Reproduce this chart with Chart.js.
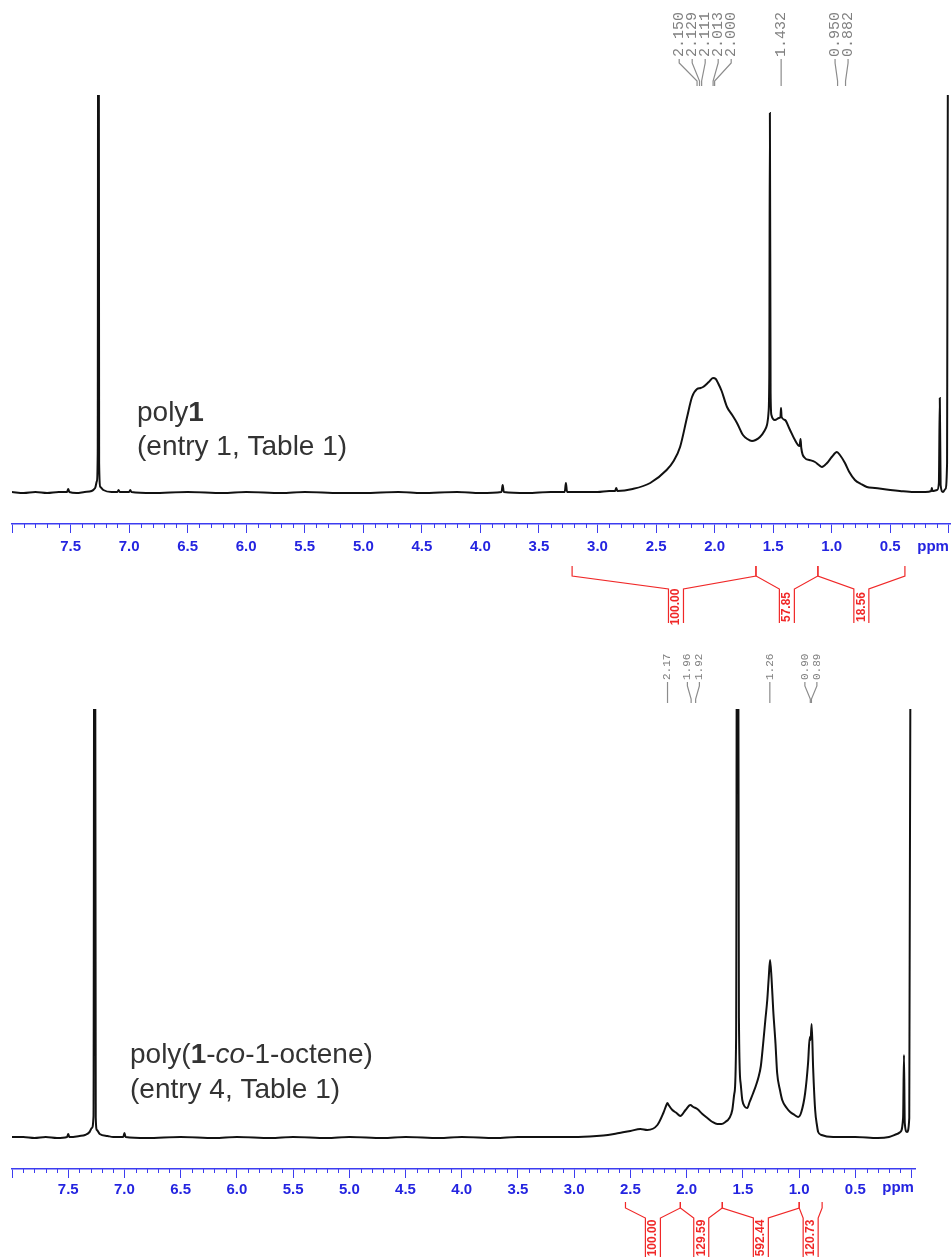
<!DOCTYPE html>
<html lang="en">
<head>
<meta charset="utf-8">
<title>1H NMR: poly1 / poly(1-co-1-octene)</title>
<script src="https://cdn.jsdelivr.net/npm/chart.js@4.4.1/dist/chart.umd.min.js"></script>
<style>
    html, body { margin: 0; padding: 0; background: #fff; }
    #wrap { position: relative; width: 952px; height: 1257px; overflow: hidden; }
    .box { position: absolute; left: 0; width: 952px; }
    #topBox { top: 0; height: 630px; }
    #bottomBox { top: 630px; height: 627px; }
</style>
</head>
<body>
<div id="wrap">
    <div class="box" id="topBox"><canvas id="topChart"></canvas></div>
    <div class="box" id="bottomBox"><canvas id="bottomChart"></canvas></div>
</div>

<script>
// ---- data ----
// x axis
var tickLabels = ['7.5', '7.0', '6.5', '6.0', '5.5', '5.0', '4.5', '4.0', '3.5', '3.0', '2.5', '2.0', '1.5', '1.0', '0.5'];

// poly1 (entry 1, Table 1)
var topPpm = [8.0, 7.9, 7.8, 7.7, 7.6, 7.53, 7.52, 7.51, 7.45, 7.38, 7.32, 7.29, 7.275, 7.268, 7.262, 7.256, 7.245, 7.22, 7.15, 7.1, 7.09, 7.08, 7.0, 6.99, 6.98, 6.8, 6.5, 6.2, 6.0, 5.7, 5.5, 5.2, 5.0, 4.7, 4.5, 4.2, 4.0, 3.82, 3.81, 3.80, 3.6, 3.4, 3.28, 3.27, 3.26, 3.1, 3.0, 2.9, 2.85, 2.84, 2.83, 2.7, 2.55, 2.41, 2.35, 2.295, 2.235, 2.193, 2.15, 2.12, 2.099, 2.05, 2.014, 1.99, 1.971, 1.94, 1.894, 1.85, 1.809, 1.758, 1.72, 1.681, 1.65, 1.613, 1.575, 1.553, 1.54, 1.533, 1.528, 1.522, 1.515, 1.485, 1.45, 1.438, 1.433, 1.428, 1.399, 1.36, 1.314, 1.275, 1.266, 1.26, 1.229, 1.19, 1.143, 1.11, 1.084, 1.04, 1.0, 0.956, 0.93, 0.887, 0.85, 0.802, 0.75, 0.7, 0.631, 0.5, 0.418, 0.3, 0.2, 0.15, 0.145, 0.14, 0.1, 0.085, 0.077, 0.07, 0.05, 0.03, 0.015, 0.0];
var topIntensity = [1, 0, 1, 0, 1, 1, 4, 1, 0, 1, 2, 5, 12, 40, 1000, 30, 6, 3, 1, 1, 3, 1, 1, 3, 1, 0, 1, 0, 1, 0, 1, 0, 0, 1, 0, 1, 0, 1, 8, 1, 0, 1, 1, 10, 1, 1, 1, 2, 2, 5, 2, 4, 10, 23, 32, 46, 76, 96, 104, 105, 106, 111, 115, 114, 110, 102, 86, 78, 70, 58, 54, 52, 53, 56, 62, 68, 80, 120, 380, 100, 78, 73, 75, 76, 85, 76, 73, 64, 53, 47, 54, 45, 35, 33, 31, 28, 26, 30, 36, 41, 38, 30, 21, 13, 9, 6, 5, 3, 2, 1, 1, 2, 5, 2, 3, 10, 95, 8, 1, 4, 30, 1000];
var topPeaks = [2.150, 2.129, 2.111, 2.013, 2.000, 1.432, 0.950, 0.882];
var topIntegralRanges = [[3.217, 1.647], [1.647, 1.118], [1.118, 0.375]];
var topIntegralLabelAt = [2.33, 1.383, 0.747];
var topIntegralValues = ['100.00', '57.85', '18.56'];

// poly(1-co-1-octene) (entry 4, Table 1)
var bottomPpm = [8.0, 7.9, 7.8, 7.7, 7.6, 7.51, 7.50, 7.49, 7.4, 7.35, 7.31, 7.29, 7.275, 7.265, 7.255, 7.245, 7.22, 7.15, 7.1, 7.01, 7.0, 6.99, 6.8, 6.5, 6.2, 6.0, 5.7, 5.5, 5.2, 5.0, 4.7, 4.5, 4.2, 4.0, 3.7, 3.5, 3.2, 3.0, 2.8, 2.7, 2.6, 2.5, 2.411, 2.35, 2.26, 2.207, 2.18, 2.171, 2.16, 2.127, 2.09, 2.056, 2.01, 1.967, 1.94, 1.905, 1.86, 1.816, 1.77, 1.727, 1.69, 1.656, 1.62, 1.594, 1.575, 1.56, 1.548, 1.535, 1.52, 1.505, 1.48, 1.461, 1.44, 1.408, 1.385, 1.363, 1.34, 1.319, 1.30, 1.283, 1.27, 1.258, 1.245, 1.23, 1.21, 1.195, 1.17, 1.15, 1.11, 1.079, 1.04, 1.008, 0.98, 0.946, 0.92, 0.905, 0.898, 0.888, 0.875, 0.857, 0.84, 0.83, 0.8, 0.697, 0.5, 0.3, 0.2, 0.129, 0.1, 0.075, 0.067, 0.06, 0.04, 0.02, 0.0];
var bottomIntensity = [1, 1, 0, 1, 0, 1, 4, 1, 2, 3, 6, 10, 22, 1000, 20, 8, 4, 2, 1, 1, 5, 1, 0, 1, 0, 1, 0, 1, 0, 1, 0, 1, 0, 1, 0, 1, 1, 1, 2, 3, 5, 7, 9, 8, 13, 25, 33, 35, 33, 28, 25, 22, 28, 33, 31, 29, 24, 20, 16, 14, 14, 16, 20, 28, 45, 100, 1000, 120, 55, 38, 31, 30, 36, 45, 52, 60, 72, 95, 118, 138, 160, 178, 160, 128, 95, 65, 48, 38, 30, 26, 23, 21, 26, 45, 75, 101, 98, 114, 70, 28, 12, 6, 3, 1, 1, 0, 1, 4, 6, 20, 83, 15, 6, 20, 1000];
var bottomPeaks = [2.17, 1.96, 1.92, 1.26, 0.90, 0.89];
var bottomIntegralRanges = [[2.544, 2.056], [2.056, 1.683], [1.683, 0.999], [0.999, 0.795]];
var bottomIntegralLabelAt = [2.30, 1.87, 1.34, 0.897];
var bottomIntegralValues = ['100.00', '129.59', '592.44', '120.73'];

// ---- styling ----
var AXIS_BLUE = '#3c3cf0';
var LABEL_BLUE = '#2424e0';
var INT_RED = '#f02828';
var SANS = '"Liberation Sans", Arial, sans-serif';
var MONO = '"Liberation Mono", "DejaVu Sans Mono", monospace';

function spreadLabels(xs, gap) {
    var groups = [];
    xs.forEach(function (v) {
        groups.push({ sum: v, n: 1 });
        while (groups.length > 1) {
            var b = groups[groups.length - 1], a = groups[groups.length - 2];
            var aRight = a.sum / a.n + (a.n - 1) * gap / 2;
            var bLeft = b.sum / b.n - (b.n - 1) * gap / 2;
            if (bLeft - aRight >= gap) break;
            groups.splice(-2, 2, { sum: a.sum + b.sum, n: a.n + b.n });
        }
    });
    var out = [];
    groups.forEach(function (g) {
        var c = g.sum / g.n;
        for (var k = 0; k < g.n; k++) out.push(c + (k - (g.n - 1) / 2) * gap);
    });
    return out;
}

var decor = {
    id: 'decor',
    afterDraw: function (chart, args, o) {
        var ctx = chart.ctx, sx = chart.scales.x, area = chart.chartArea;
        ctx.save();

        // minor ticks every 0.1 ppm
        ctx.strokeStyle = AXIS_BLUE;
        ctx.lineWidth = 1;
        for (var i = 1; i < 80; i++) {
            if (i % 5 === 0) continue;
            var mx = Math.round(sx.getPixelForValue(i / 10)) + 0.5;
            ctx.beginPath();
            ctx.moveTo(mx, area.bottom);
            ctx.lineTo(mx, area.bottom + 4);
            ctx.stroke();
        }

        // "ppm"
        ctx.fillStyle = LABEL_BLUE;
        ctx.font = 'bold 15px ' + SANS;
        ctx.textAlign = 'left';
        ctx.textBaseline = 'middle';
        ctx.fillText('ppm', sx.getPixelForValue(0.5) + 27, area.bottom + o.ppmDy);

        // sample title
        ctx.fillStyle = '#333';
        ctx.textBaseline = 'alphabetic';
        o.title.forEach(function (line, li) {
            var cx = o.titleX, cy = o.titleY + li * o.titleLead;
            line.forEach(function (seg) {
                ctx.font = (seg.i ? 'italic ' : '') + (seg.b ? 'bold ' : '') + '28px ' + SANS;
                ctx.fillText(seg.t, cx, cy);
                cx += ctx.measureText(seg.t).width;
            });
        });

        // peak labels
        var pxs = o.peaks.map(function (p) { return sx.getPixelForValue(p); });
        var lxs = spreadLabels(pxs, o.labelGap);
        ctx.strokeStyle = '#8c8c8c';
        ctx.fillStyle = '#808080';
        ctx.lineWidth = 1.2;
        ctx.font = o.peakFont;
        o.peaks.forEach(function (p, k) {
            var lx = lxs[k], px = pxs[k], L = o.peakLine;
            ctx.beginPath();
            ctx.moveTo(lx, area.top + L[0]);
            ctx.lineTo(lx, area.top + L[1]);
            ctx.lineTo(px, area.top + L[2]);
            ctx.lineTo(px, area.top + L[3]);
            ctx.stroke();
            ctx.save();
            ctx.translate(lx, area.top + L[0] - 2);
            ctx.rotate(-Math.PI / 2);
            ctx.textAlign = 'left';
            ctx.textBaseline = 'middle';
            ctx.fillText(p.toFixed(o.decimals), 0, 0);
            ctx.restore();
        });

        // integrals
        var G = o.intGeom, base = area.bottom, half = 7.5;
        ctx.strokeStyle = INT_RED;
        ctx.fillStyle = INT_RED;
        ctx.lineWidth = 1.2;
        ctx.font = 'bold 12px ' + SANS;
        o.ranges.forEach(function (r, k) {
            var xa = sx.getPixelForValue(r[0]), xb = sx.getPixelForValue(r[1]);
            var xc = sx.getPixelForValue(o.labelAt[k]);
            ctx.beginPath();
            ctx.moveTo(xa, base + G[0]); ctx.lineTo(xa, base + G[1]);
            ctx.lineTo(xc - half, base + G[2]); ctx.lineTo(xc - half, base + G[3]);
            ctx.moveTo(xc + half, base + G[3]); ctx.lineTo(xc + half, base + G[2]);
            ctx.lineTo(xb, base + G[1]); ctx.lineTo(xb, base + G[0]);
            ctx.stroke();
            ctx.save();
            ctx.translate(xc, base + G[4]);
            ctx.rotate(-Math.PI / 2);
            ctx.textAlign = 'center';
            ctx.textBaseline = 'middle';
            ctx.fillText(o.values[k], 0, 0);
            ctx.restore();
        });

        ctx.restore();
    }
};

function makeChart(id, ppm, intensity, yMin, yMax, pad, extra) {
    var tickValues = [8.0].concat(tickLabels.map(Number), [0.0]);
    return new Chart(document.getElementById(id), {
        type: 'line',
        data: {
            datasets: [{
                data: ppm.map(function (p, i) { return { x: p, y: intensity[i] }; }),
                borderColor: '#111',
                borderWidth: 2,
                pointRadius: 0,
                cubicInterpolationMode: 'monotone',
                fill: false
            }]
        },
        options: {
            responsive: true,
            maintainAspectRatio: false,
            animation: false,
            events: [],
            layout: { padding: pad },
            plugins: { legend: { display: false }, tooltip: { enabled: false }, decor: extra },
            scales: {
                x: {
                    type: 'linear',
                    reverse: true,
                    min: pad.xMin,
                    max: 8.0,
                    afterBuildTicks: function (s) { s.ticks = tickValues.map(function (v) { return { value: v }; }); },
                    afterFit: function (s) { s.height = 30; s.paddingLeft = 0; s.paddingRight = 0; },
                    grid: { drawOnChartArea: false, drawTicks: true, tickLength: 9, tickColor: AXIS_BLUE, tickWidth: 1 },
                    border: { display: true, color: AXIS_BLUE, width: 1.5 },
                    ticks: {
                        autoSkip: false,
                        maxRotation: 0,
                        padding: pad.tickPad,
                        color: LABEL_BLUE,
                        font: { family: SANS, size: 15, weight: 'bold' },
                        callback: function (v) { return (v > 0.01 && v < 7.99) ? v.toFixed(1) : ''; }
                    }
                },
                y: { display: false, min: yMin, max: yMax }
            }
        },
        plugins: [decor]
    });
}

makeChart('topChart', topPpm, topIntensity, -31, 398,
    { top: 95, left: 12, right: 2, bottom: 76, xMin: -0.01, tickPad: 5 },
    {
        title: [[{ t: 'poly' }, { t: '1', b: true }], [{ t: '(entry 1, Table 1)' }]],
        titleX: 137, titleY: 421, titleLead: 34,
        peaks: topPeaks, decimals: 3, labelGap: 13,
        peakFont: '15px ' + MONO, peakLine: [-36, -32, -14, -9],
        ranges: topIntegralRanges, labelAt: topIntegralLabelAt, values: topIntegralValues,
        intGeom: [42, 52, 65, 99, 83],
        ppmDy: 23
    });

makeChart('bottomChart', bottomPpm, bottomIntensity, -31, 429,
    { top: 79, left: 12, right: 37, bottom: 58, xMin: -0.031, tickPad: 3 },
    {
        title: [[{ t: 'poly(' }, { t: '1', b: true }, { t: '-' }, { t: 'co', i: true }, { t: '-1-octene)' }], [{ t: '(entry 4, Table 1)' }]],
        titleX: 130, titleY: 433, titleLead: 35,
        peaks: bottomPeaks, decimals: 2, labelGap: 12,
        peakFont: '11px ' + MONO, peakLine: [-27, -23, -10, -6],
        ranges: bottomIntegralRanges, labelAt: bottomIntegralLabelAt, values: bottomIntegralValues,
        intGeom: [33, 39, 49, 95, 69],
        ppmDy: 19
    });
</script>
</body>
</html>
